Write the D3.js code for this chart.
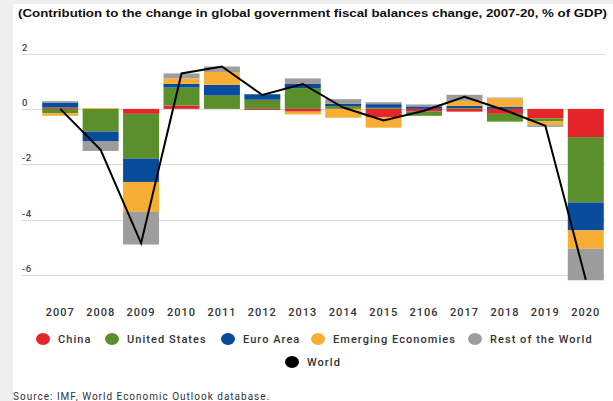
<!DOCTYPE html>
<html>
<head>
<meta charset="utf-8">
<script src="https://cdn.jsdelivr.net/npm/d3@7"></script>
<style>
  html, body { margin: 0; padding: 0; background: #fff; }
  svg { display: block; }
</style>
</head>
<body>
<div id="chart"></div>
<script>
// data (% of GDP)
const years = ["2007", "2008", "2009", "2010", "2011", "2012", "2013", "2014", "2015", "2106", "2017", "2018", "2019", "2020"];
const china = [0.05, 0, -0.18, 0.12, 0, -0.04, -0.1, 0, -0.3, -0.1, -0.1, -0.18, -0.34, -1.02];
const unitedStates = [-0.16, -0.82, -1.62, 0.65, 0.48, 0.33, 0.75, 0.1, 0.04, -0.15, 0.03, -0.28, -0.1, -2.36];
const euroArea = [0.18, -0.36, -0.84, 0.13, 0.39, 0.2, 0.15, 0.08, 0.13, 0.09, 0.08, 0.08, 0, -1.01];
const emerging = [-0.09, 0.03, -1.08, 0.2, 0.46, 0, -0.1, -0.32, -0.38, 0, 0.18, 0.3, -0.15, -0.66];
const restOfWorld = [0.05, -0.34, -1.18, 0.18, 0.2, 0.01, 0.2, 0.17, 0.07, 0.07, 0.22, 0.03, -0.06, -1.14];
const world = [0.0, -1.48, -4.85, 1.28, 1.53, 0.5, 0.9, 0.05, -0.42, -0.07, 0.44, -0.05, -0.61, -6.17];
const yTicks = [2, 0, -2, -4, -6];

const seriesNames = ["China", "United States", "Euro Area", "Emerging Economies", "Rest of the World"];
const colors = ["#e4262b", "#5a8f2b", "#0a4c9c", "#f8ae33", "#9d9d9d"];

const width = 613, height = 401;

const svg = d3.select("#chart")
  .append("svg")
  .attr("width", width)
  .attr("height", height);

// page background + white panel
svg.append("rect").attr("width", width).attr("height", height).attr("fill", "#efefef");
svg.append("rect").attr("x", 13).attr("y", 4).attr("width", width - 13).attr("height", height - 4).attr("fill", "#fff");

// title
svg.append("text")
  .attr("x", 18)
  .attr("y", 17)
  .attr("textLength", 589)
  .attr("lengthAdjust", "spacingAndGlyphs")
  .style("font-family", "Liberation Sans, Arial, sans-serif")
  .style("font-weight", "bold")
  .style("font-size", "11px")
  .style("fill", "#111")
  .text("(Contribution to the change in global government fiscal balances change, 2007-20, % of GDP)");

// scales
const x = d3.scaleBand().domain(years).range([40, 606]).paddingInner(0.11).paddingOuter(0.055);
const y = d3.scaleLinear().domain([-6, 2]).range([275, 53.5]);

// gridlines + y labels
const grid = svg.append("g");
grid.selectAll("line")
  .data(yTicks)
  .enter()
  .append("line")
  .attr("x1", 22)
  .attr("x2", 605)
  .attr("y1", (d) => Math.round(y(d)) + 0.5)
  .attr("y2", (d) => Math.round(y(d)) + 0.5)
  .attr("stroke", "#dcdcdc")
  .attr("stroke-width", 1);
grid.selectAll("text")
  .data(yTicks)
  .enter()
  .append("text")
  .attr("x", 22)
  .attr("y", (d) => y(d) - 3)
  .style("font-family", "Roboto, sans-serif")
  .style("font-size", "9.5px")
  .style("font-weight", 500)
  .style("letter-spacing", "0.6px")
  .style("fill", "#444")
  .text((d) => d);

// stacked bars (diverging)
const table = years.map((yr, i) => ({
  year: yr,
  "China": china[i],
  "United States": unitedStates[i],
  "Euro Area": euroArea[i],
  "Emerging Economies": emerging[i],
  "Rest of the World": restOfWorld[i],
}));
const stack = d3.stack().keys(seriesNames).offset(d3.stackOffsetDiverging);
const layers = stack(table);

svg.append("g")
  .selectAll("g")
  .data(layers)
  .enter()
  .append("g")
  .attr("fill", (d, i) => colors[i])
  .selectAll("rect")
  .data((d) => d)
  .enter()
  .append("rect")
  .attr("x", (d) => x(d.data.year))
  .attr("width", x.bandwidth())
  .attr("y", (d) => y(Math.max(d[0], d[1])))
  .attr("height", (d) => Math.abs(y(d[0]) - y(d[1])));

// world line
const line = d3.line()
  .x((d, i) => x(years[i]) + x.bandwidth() / 2)
  .y((d) => y(d));
svg.append("path")
  .datum(world)
  .attr("fill", "none")
  .attr("stroke", "#000")
  .attr("stroke-width", 2)
  .attr("stroke-linejoin", "miter")
  .attr("d", line);

// x axis labels
svg.append("g")
  .selectAll("text")
  .data(years)
  .enter()
  .append("text")
  .attr("x", (d) => x(d) + x.bandwidth() / 2)
  .attr("y", 316)
  .attr("text-anchor", "middle")
  .style("font-family", "Roboto, sans-serif")
  .style("font-size", "11px")
  .style("font-weight", 500)
  .style("letter-spacing", "1px")
  .style("fill", "#333")
  .text((d) => d);

// legend
const legendItems = [
  { name: "China", color: colors[0], cx: 43, row: 0 },
  { name: "United States", color: colors[1], cx: 112, row: 0 },
  { name: "Euro Area", color: colors[2], cx: 228, row: 0 },
  { name: "Emerging Economies", color: colors[3], cx: 318, row: 0 },
  { name: "Rest of the World", color: colors[4], cx: 475, row: 0 },
  { name: "World", color: "#000", cx: 292, row: 1 },
];
const rowY = [339, 362];
const legend = svg.append("g")
  .selectAll("g")
  .data(legendItems)
  .enter()
  .append("g");
legend.append("ellipse")
  .attr("cx", (d) => d.cx)
  .attr("cy", (d) => rowY[d.row])
  .attr("rx", 7)
  .attr("ry", 6)
  .attr("fill", (d) => d.color);
legend.append("text")
  .attr("x", (d) => d.cx + 15)
  .attr("y", (d) => rowY[d.row] + 4)
  .style("font-family", "Roboto, sans-serif")
  .style("font-size", "11px")
  .style("font-weight", 500)
  .style("letter-spacing", "1.05px")
  .style("fill", "#333")
  .text((d) => d.name);

// source
svg.append("text")
  .attr("x", 13)
  .attr("y", 400)
  .style("font-family", "Roboto, sans-serif")
  .style("font-size", "10px")
  .style("letter-spacing", "1px")
  .style("fill", "#333")
  .text("Source: IMF, World Economic Outlook database.");
</script>
</body>
</html>
